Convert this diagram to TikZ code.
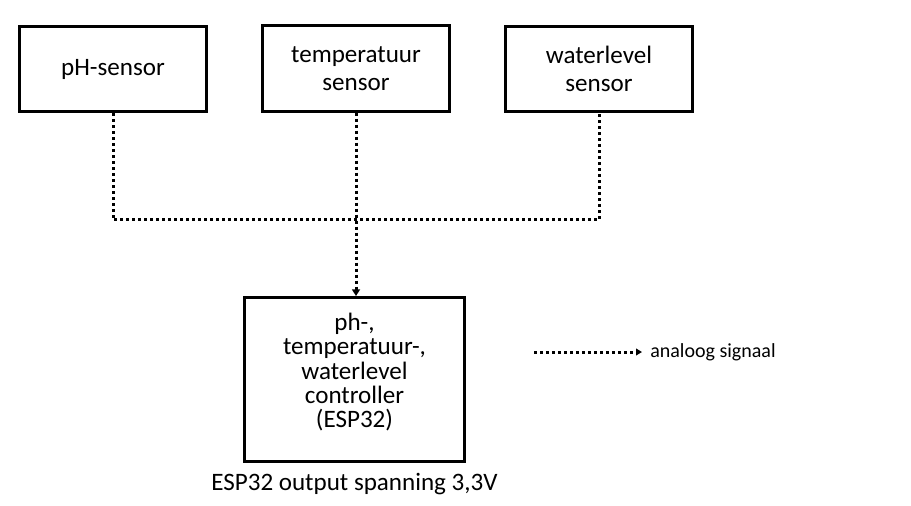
\documentclass[tikz,border=0pt]{standalone}
\usepackage{fontspec}
\setmainfont{Carlito}
\usetikzlibrary{arrows.meta,positioning}

\tikzset{
  blok/.style={draw, line width=2.25pt, align=center, font=\fontsize{18.8}{18.2}\selectfont},
  sensorblok/.style={blok, minimum width=140pt, minimum height=64pt, font=\fontsize{18.8}{21}\selectfont},
  signaal/.style={line width=2.25pt, dash pattern=on 2.25pt off 2.25pt},
}

\begin{document}
\begin{tikzpicture}[x=0.75pt,y=-0.75pt]
\useasboundingbox (0,0) rectangle (911,506);
% sensoren
\node[sensorblok] (ph) at (113,69) {pH-sensor};
\node[sensorblok] (temp) at (356,68.5) {temperatuur\\sensor};
\node[sensorblok] (water) at (599,69) {waterlevel\\sensor};
% controller
\node[blok, minimum width=165pt, minimum height=123pt] (ctrl) at (354.5,379.5)
  {ph-,\\temperatuur-,\\waterlevel\\controller\\(ESP32)\\[-4.7pt]~};
\node[font=\fontsize{18.8}{18.2}\selectfont, below=4pt of ctrl] (spanning) {ESP32 output spanning 3,3V};

% analoge signalen
\coordinate (bus) at (0,220);
\draw[signaal] (ph.south) |- (bus -| water.south) -- (water.south);
\draw[signaal, -{Triangle[length=5pt,width=6pt]}] (temp.south) -- (temp.south |- ctrl.north);

% legenda
\node[font=\fontsize{15}{17}\selectfont, anchor=west, inner sep=0pt] (legtekst) at (650,352) {analoog signaal};
\coordinate (legstart) at (534,352);
\draw[signaal, -{Triangle[length=4.5pt,width=5pt]}, shorten >=6pt] (legstart) -- (legtekst.west);
\end{tikzpicture}
\end{document}
